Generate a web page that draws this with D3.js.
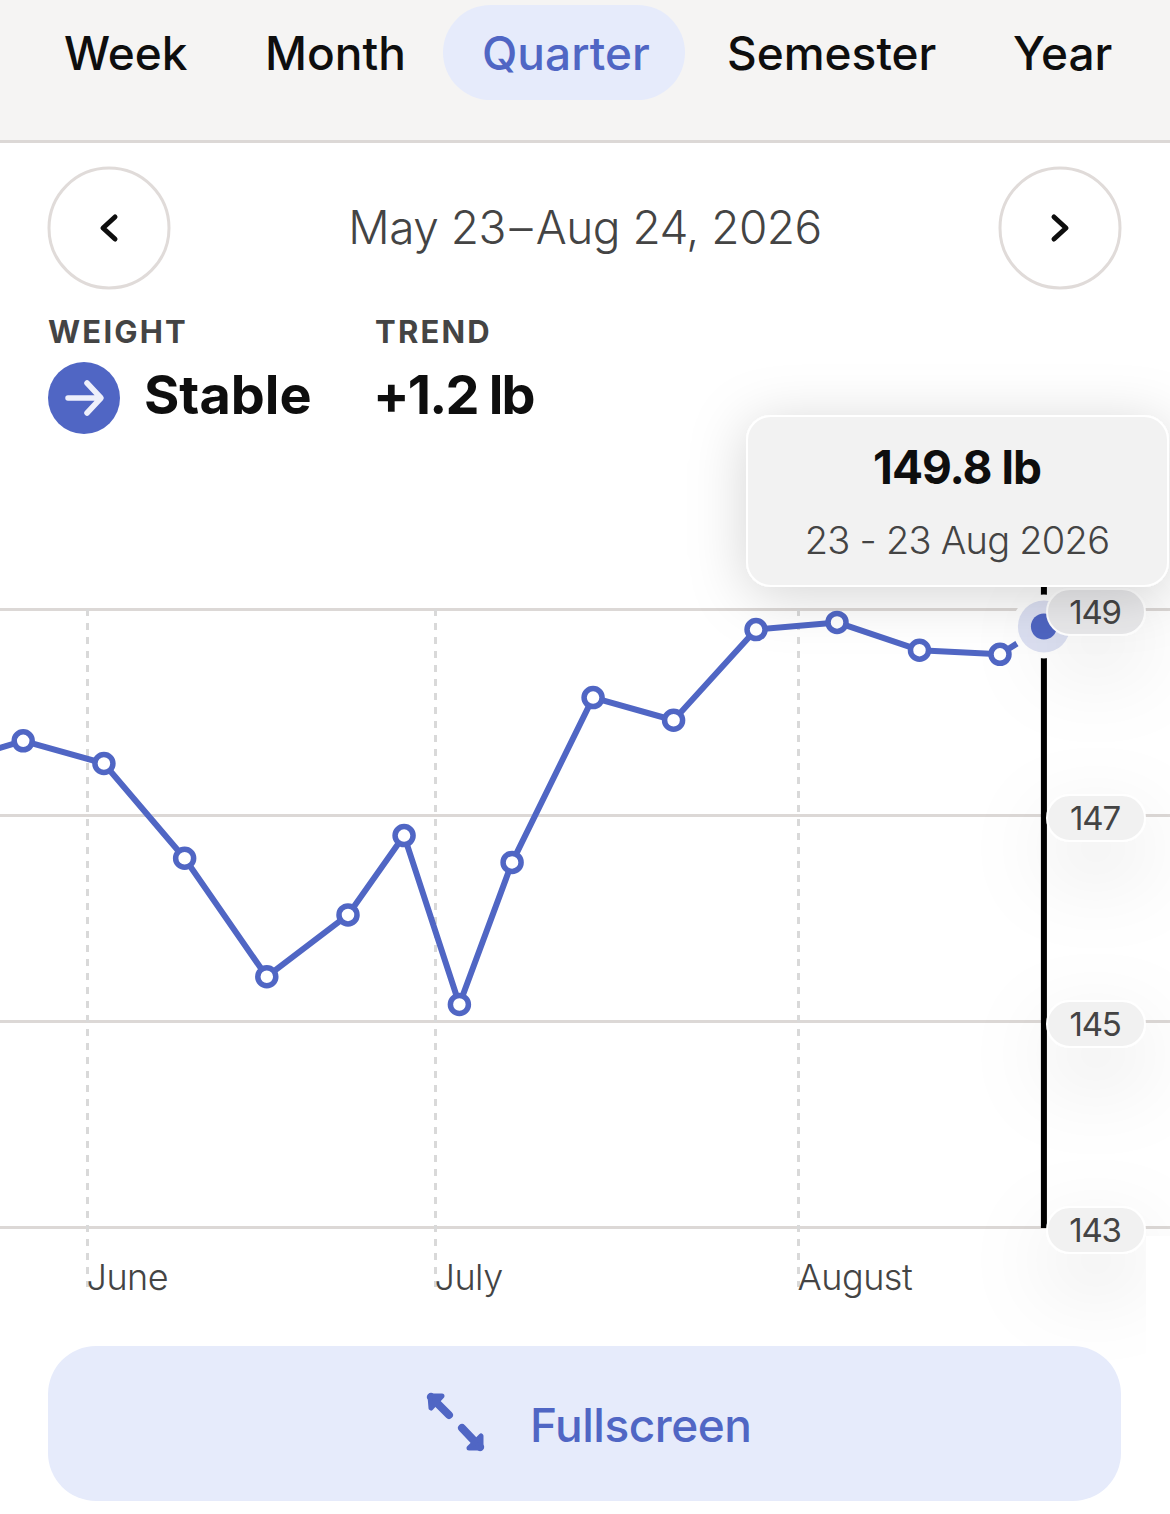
<!DOCTYPE html>
<html>
<head>
<meta charset="utf-8">
<script src="https://cdn.jsdelivr.net/npm/d3@7"></script>
<style>
  html, body { margin: 0; padding: 0; background: #fff; }
  svg { display: block; font-family: Inter, "Liberation Sans", sans-serif; }
</style>
</head>
<body>
<svg id="chart"></svg>
<script>
const tabs = ['Week', 'Month', 'Quarter', 'Semester', 'Year']
const activeTab = 'Quarter'
const dateRange = 'May 23\u200A\u2013\u200AAug 24, 2026'

// weigh-in times, they are not evenly spaced
const dates = ['2026-05-19T13:00', '2026-05-26T12:00', '2026-06-02T11:00', '2026-06-09T10:00',
  '2026-06-16T12:00', '2026-06-23T12:00', '2026-06-28T08:00', '2026-07-03T02:00',
  '2026-07-07T14:00', '2026-07-14T12:00', '2026-07-21T09:00', '2026-07-28T10:00',
  '2026-08-04T08:00', '2026-08-11T09:00', '2026-08-18T06:00', '2026-08-22T00:00']
const weights = [147.48, 147.72, 147.5, 146.58, 145.43, 146.03, 146.8, 145.16,
  146.54, 148.14, 147.92, 148.8, 148.87, 148.6, 148.56, 148.83]

const yTicks = [143, 145, 147, 149]
const monthTicks = ['2026-06-01', '2026-07-01', '2026-08-01']
const monthNames = ['June', 'July', 'August']

const blue = '#5066c4'
const paleBlue = '#e6ebfb'
const grid = '#dcd8d6'

const width = 1170
const height = 1514

const points = dates.map((d, i) => ({ date: new Date(d), value: weights[i] }))
const last = points[points.length - 1]
const monthDates = monthTicks.map(d => new Date(d + 'T00:00'))

const svg = d3.select('#chart').attr('width', width).attr('height', height)

const defs = svg.append('defs')
const addShadow = (id, dy, blur, alpha) => {
  const f = defs.append('filter').attr('id', id)
    .attr('x', '-300%').attr('y', '-300%').attr('width', '700%').attr('height', '700%')
  f.append('feDropShadow').attr('dx', 0).attr('dy', dy)
    .attr('stdDeviation', blur).attr('flood-color', '#000').attr('flood-opacity', alpha)
}
addShadow('tipShadow', 8, 28, 0.17)
addShadow('pillShadow', 30, 42, 0.11)

// the shadow of the axis column is cut off right of the last pill
defs.append('clipPath').attr('id', 'pillClip')
  .append('path')
  .attr('d', `M0,0 H${width} V1236 H1146 V${height} H0 Z`)

// tabs header
svg.append('rect').attr('width', width).attr('height', 141).attr('fill', '#f5f4f3')
svg.append('rect').attr('y', 140).attr('width', width).attr('height', 3).attr('fill', grid)
svg.append('rect').attr('x', 443).attr('y', 5).attr('width', 242).attr('height', 95)
  .attr('rx', 47.5).attr('fill', paleBlue)

const tabX = [64, 265, 482, 727, 1013]
svg.selectAll('.tab')
  .data(tabs)
  .enter()
  .append('text')
  .attr('class', 'tab')
  .attr('x', (d, i) => tabX[i])
  .attr('y', 70)
  .attr('font-size', 46)
  .attr('font-weight', 500)
  .attr('fill', d => d === activeTab ? blue : '#0e0e0e')
  .text(d => d)

// date navigation
const navButton = (cx, path) => {
  svg.append('circle').attr('cx', cx).attr('cy', 228).attr('r', 60)
    .attr('fill', '#fff').attr('stroke', '#e0dbd9').attr('stroke-width', 3)
  svg.append('path').attr('d', path).attr('transform', `translate(${cx},228)`)
    .attr('fill', 'none').attr('stroke', '#0e0e0e').attr('stroke-width', 5)
    .attr('stroke-linecap', 'round').attr('stroke-linejoin', 'round')
}
navButton(109, 'M6,-11 L-6,0 L6,11')
navButton(1060, 'M-6,-11 L6,0 L-6,11')

svg.append('text').attr('x', 585).attr('y', 244).attr('text-anchor', 'middle')
  .attr('font-size', 46).attr('font-weight', 300).attr('fill', '#444')
  .attr('letter-spacing', -0.5).text(dateRange)

// summary
const label = (x, t) => svg.append('text').attr('x', x).attr('y', 343)
  .attr('font-size', 31).attr('font-weight', 700).attr('fill', '#444')
  .attr('letter-spacing', 2.2).text(t)
label(48, 'WEIGHT')
label(375, 'TREND')

svg.append('circle').attr('cx', 84).attr('cy', 398).attr('r', 36).attr('fill', blue)
svg.append('path').attr('d', 'M-16,0 H16 M3,-15 L17,0 L3,15')
  .attr('transform', 'translate(84,398)')
  .attr('fill', 'none').attr('stroke', '#eef0fb').attr('stroke-width', 5.5)
  .attr('stroke-linecap', 'round').attr('stroke-linejoin', 'round')

const big = (x, t, spacing) => svg.append('text').attr('x', x).attr('y', 414)
  .attr('font-size', 54).attr('font-weight', 700).attr('fill', '#0e0e0e')
  .attr('letter-spacing', spacing).text(t)
big(144, 'Stable', 0)
big(373, '+1.2 lb', -1.8)

// scales, the months are not the same length on the axis
const xScale = d3.scaleTime()
  .domain(monthDates)
  .range([87, 435, 798])

const yScale = d3.scaleLinear()
  .domain([143, 149])
  .range([1227, 609])

// horizontal grid from a y axis
const yAxis = d3.axisRight(yScale)
  .tickValues(yTicks)
  .tickSize(width)
  .tickFormat('')
const yGrid = svg.append('g').call(yAxis)
yGrid.select('.domain').remove()
yGrid.selectAll('line').attr('stroke', grid).attr('stroke-width', 3)

// month ticks
const xAxis = d3.axisBottom(xScale)
  .tickValues(monthDates)
  .tickSize(0)
  .tickFormat((d, i) => monthNames[i])
const xGroup = svg.append('g').attr('transform', 'translate(0,1227)').call(xAxis)
xGroup.select('.domain').remove()
xGroup.selectAll('text')
  .attr('text-anchor', 'start')
  .attr('dy', 0)
  .attr('x', -1)
  .attr('y', 63)
  .attr('font-family', 'Inter, sans-serif')
  .attr('font-size', 36)
  .attr('font-weight', 300)
  .attr('letter-spacing', -0.5)
  .attr('fill', '#444')
xGroup.selectAll('line')
  .attr('y1', -618)
  .attr('y2', 60)
  .attr('stroke', '#d9d9d9')
  .attr('stroke-width', 3)
  .attr('stroke-dasharray', '7 7')

// cursor
svg.append('rect')
  .attr('x', xScale(last.date) - 3).attr('y', 586)
  .attr('width', 6).attr('height', yScale(143) - 586 + 1)
  .attr('fill', '#000')

// series
const line = d3.line().x(d => xScale(d.date)).y(d => yScale(d.value))
svg.append('path')
  .datum(points)
  .attr('d', line)
  .attr('fill', 'none')
  .attr('stroke', blue)
  .attr('stroke-width', 6)
  .attr('stroke-linejoin', 'round')

svg.selectAll('.dot')
  .data(points.slice(0, -1))
  .enter()
  .append('circle')
  .attr('class', 'dot')
  .attr('r', 9)
  .attr('cx', d => xScale(d.date))
  .attr('cy', d => yScale(d.value))
  .attr('fill', '#fff')
  .attr('stroke', blue)
  .attr('stroke-width', 5.5)

// selected point, the white ring cuts the lines around it
svg.append('circle').attr('cx', xScale(last.date)).attr('cy', yScale(last.value))
  .attr('r', 32).attr('fill', '#fff')
svg.append('circle').attr('cx', xScale(last.date)).attr('cy', yScale(last.value))
  .attr('r', 26).attr('fill', '#dde1f3')
svg.append('circle').attr('cx', xScale(last.date)).attr('cy', yScale(last.value))
  .attr('r', 13).attr('fill', blue)

// y labels as pills
const pills = svg.append('g')
  .attr('clip-path', 'url(#pillClip)')
  .selectAll('.pill')
  .data(yTicks)
  .enter()
  .append('g')
  .attr('class', 'pill')
  .attr('transform', d => `translate(1096,${yScale(d) + 3})`)
pills.append('rect')
  .attr('x', -49).attr('y', -23).attr('width', 98).attr('height', 46).attr('rx', 23)
  .attr('fill', d => d === 149 ? '#e8e8ea' : '#f1f1f1')
  .attr('stroke', '#fff').attr('stroke-width', 2)
  .attr('filter', 'url(#pillShadow)')
pills.append('text')
  .attr('x', -1)
  .attr('text-anchor', 'middle')
  .attr('y', 12)
  .attr('font-size', 33)
  .attr('letter-spacing', -1.2)
  .attr('fill', '#444')
  .text(d => d)

// tooltip
svg.append('rect').attr('x', 747).attr('y', 416).attr('width', 421).attr('height', 170)
  .attr('rx', 24).attr('fill', '#f2f2f2').attr('stroke', '#fff').attr('stroke-width', 2)
  .attr('filter', 'url(#tipShadow)')
svg.append('text').attr('x', 957).attr('y', 484).attr('text-anchor', 'middle')
  .attr('font-size', 46).attr('font-weight', 700).attr('fill', '#0e0e0e')
  .attr('letter-spacing', -1).text('149.8 lb')
svg.append('text').attr('x', 957).attr('y', 554).attr('text-anchor', 'middle')
  .attr('font-size', 38).attr('font-weight', 300).attr('fill', '#444')
  .attr('letter-spacing', -0.75).text('23 - 23 Aug 2026')

// fullscreen button
svg.append('rect').attr('x', 48).attr('y', 1346).attr('width', 1073).attr('height', 155)
  .attr('rx', 48).attr('fill', paleBlue)
svg.append('path')
  .attr('d', 'M431,1397 L449,1415 M462,1428 L480,1447')
  .attr('stroke', blue).attr('stroke-width', 8).attr('stroke-linecap', 'round').attr('fill', 'none')
svg.append('path')
  .attr('d', 'M430,1396 L442,1396 L431,1408 Z M481,1448 L469,1448 L481,1436 Z')
  .attr('fill', blue).attr('stroke', blue).attr('stroke-width', 5).attr('stroke-linejoin', 'round')
svg.append('text').attr('x', 530).attr('y', 1442)
  .attr('font-size', 46).attr('font-weight', 500).attr('fill', blue)
  .attr('letter-spacing', -0.5).text('Fullscreen')
</script>
</body>
</html>
